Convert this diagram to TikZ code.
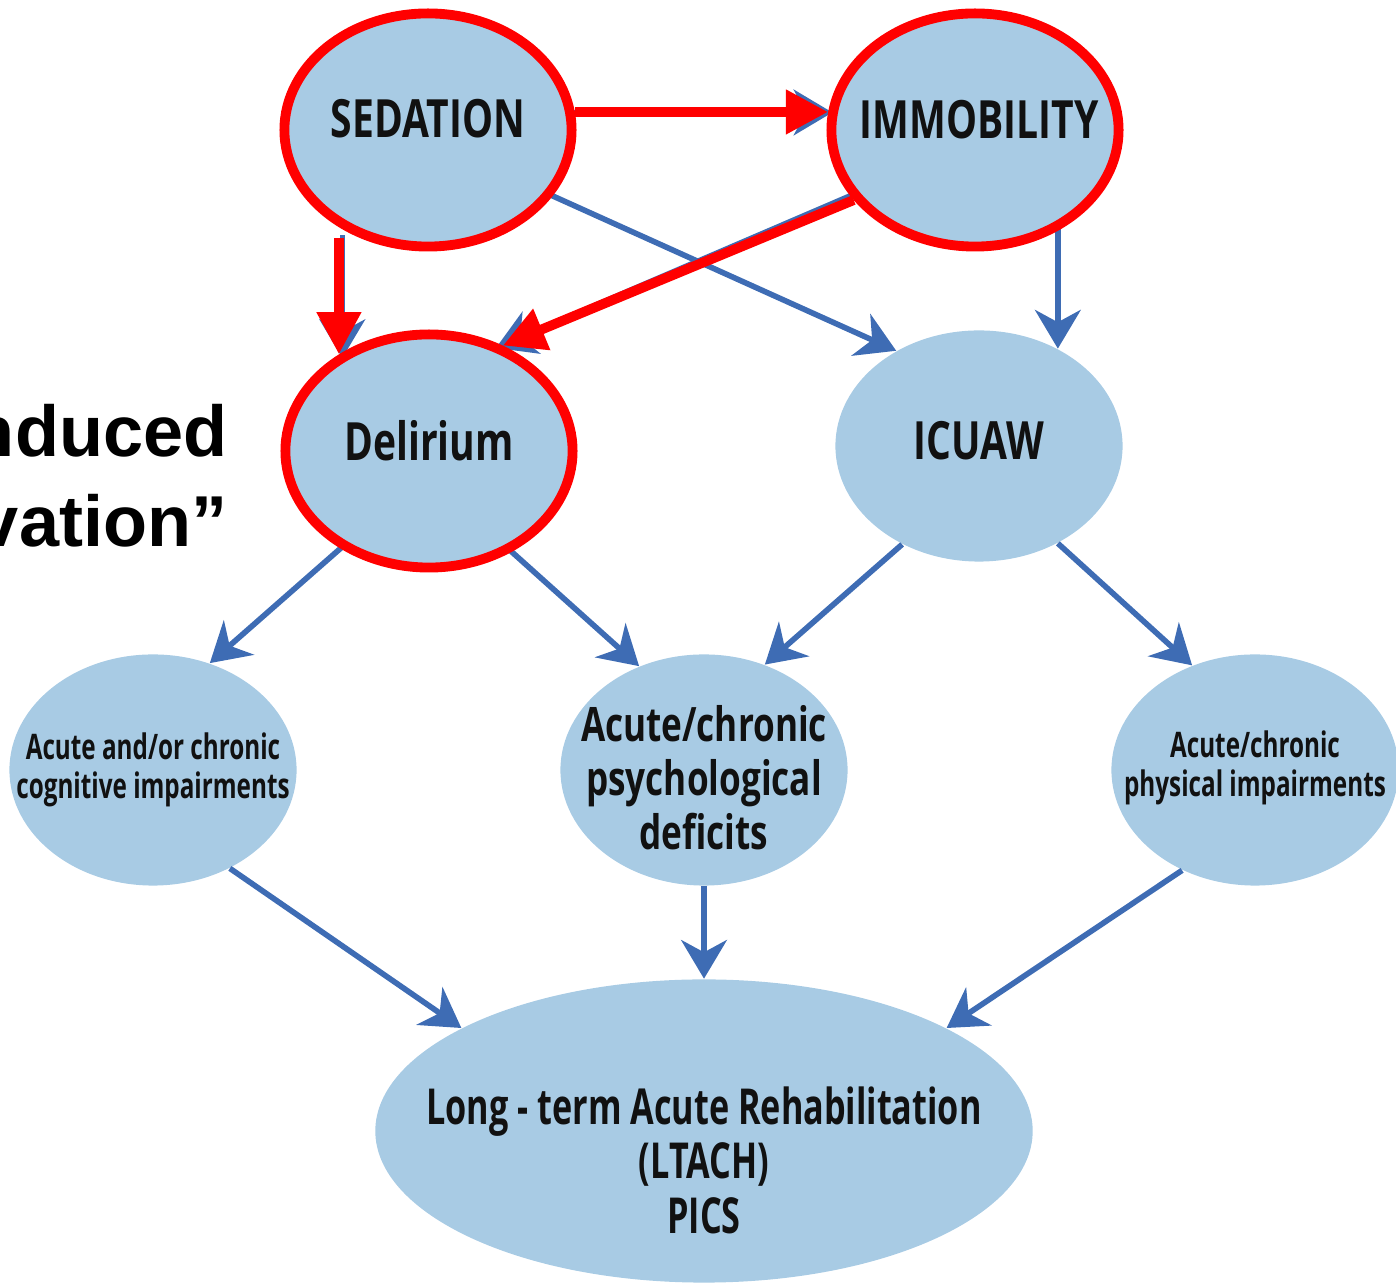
\documentclass[tikz,border=0pt]{standalone}
\usepackage{fontspec}
\usepackage{tikz}
\usetikzlibrary{shapes.geometric,arrows.meta,calc}

\newfontfamily\bubblefont[FakeStretch=0.74]{Open Sans}
\newfontfamily\narrowfont[FakeStretch=0.69]{Open Sans}
\newfontfamily\sidefont{Liberation Sans}

\definecolor{bubbleblue}{RGB}{168,203,228}
\definecolor{flowblue}{RGB}{62,108,180}
\definecolor{markred}{RGB}{255,0,0}
\definecolor{inkblack}{RGB}{17,17,17}

\begin{document}
\begin{tikzpicture}[x=0.01cm,y=-0.01cm,
    bubble/.style={ellipse, fill=bubbleblue, inner sep=0pt, minimum width=2.87cm, minimum height=2.31cm},
    ring/.style={ellipse, draw=markred, line width=2.8pt, inner sep=0pt, minimum width=2.87cm, minimum height=2.33cm},
    txt/.style={text=inkblack, align=center, inner sep=0pt},
    bigtxt/.style={txt, font=\bubblefont\bfseries\fontsize{15}{17}\selectfont},
    midtxt/.style={txt, font=\bubblefont\bfseries\fontsize{13.5}{15.4}\selectfont},
    smalltxt/.style={txt, font=\narrowfont\bfseries\fontsize{10}{11.1}\selectfont},
    longtxt/.style={txt, font=\narrowfont\bfseries\fontsize{14.1}{15.5}\selectfont},
    flow/.style={draw=flowblue, line width=1.6pt, -{Stealth[length=11pt,width=13pt,inset=3.5pt]}},
    redflow/.style={draw=markred, line width=2.8pt, -{Triangle[length=12pt,width=12pt]}}]

    \useasboundingbox (0,0) rectangle (1396,1286);

    % Draw the ellipses
    \node[bubble] (sed) at (428,130) {};
    \node[bubble] (imm) at (975,130) {};
    \node[bubble] (del) at (429,451) {};
    \node[bubble] (icu) at (979,446) {};
    \node[bubble] (cog) at (153,770) {};
    \node[bubble] (psy) at (704,770) {};
    \node[bubble] (phy) at (1255,770) {};
    \node[bubble, minimum width=6.57cm, minimum height=3.03cm] (lta) at (704,1131) {};

    % Labels inside
    \node[bigtxt] (sedtxt) at ($(sed)+(0,-11)$) {SEDATION};
    \node[bigtxt] (immtxt) at ($(imm)+(4,-10)$) {IMMOBILITY};
    \node[bigtxt] (deltxt) at ($(del)+(0,-10)$) {Delirium};
    \node[bigtxt] (icutxt) at ($(icu)+(0,-5)$) {ICUAW};
    \node[smalltxt] (cogtxt) at ($(cog)+(0,0)$) {Acute and/or chronic\\cognitive impairments};
    \node[midtxt] (psytxt) at ($(psy)+(0,8)$) {Acute/chronic\\psychological\\deficits};
    \node[smalltxt] (phytxt) at ($(phy)+(0,-2)$) {Acute/chronic\\physical impairments};
    \node[longtxt] (ltatxt) at ($(lta)+(0,29)$) {Long - term Acute Rehabilitation\\(LTACH)\\PICS};

    % Text cut off at the left
    \node[anchor=north east, align=right, inner sep=0pt, font=\sidefont\bfseries\fontsize{20.5}{25.6}\selectfont] (side) at (228,404) {nduced\\vation”\hspace{2.8pt}};

    % Blue arrows
    \draw[flow] (sed.7) -- (imm.173);
    \draw[flow] (del.133 |- sed.-120) -- (del.133);
    \draw[flow] (imm.208) -- (del.57);
    \draw[flow] (sed.-28) -- (icu.131);
    \draw[flow] (icu.51 |- imm.-50) -- (icu.51);
    \draw[flow] (del.228) -- (cog.62);
    \draw[flow] (del.-51) -- (psy.122);
    \draw[flow] (icu.232) -- (psy.60);
    \draw[flow] (icu.-51) -- (phy.121);
    \draw[flow] (cog.-52) -- (lta.157);
    \draw[flow] (psy.south) -- (lta.north);
    \draw[flow] (phy.234) -- (lta.23);

    % Red rings on top
    \node[ring] (sedring) at (sed) {};
    \node[ring] (immring) at (imm) {};
    \node[ring] (delring) at (del) {};

    % Red arrows
    \draw[redflow] (sedring.7) -- (immring.173);
    \draw[redflow] (delring.133 |- sedring.-122) -- (delring.133);
    \draw[redflow] (immring.210) -- (delring.55);
\end{tikzpicture}
\end{document}
